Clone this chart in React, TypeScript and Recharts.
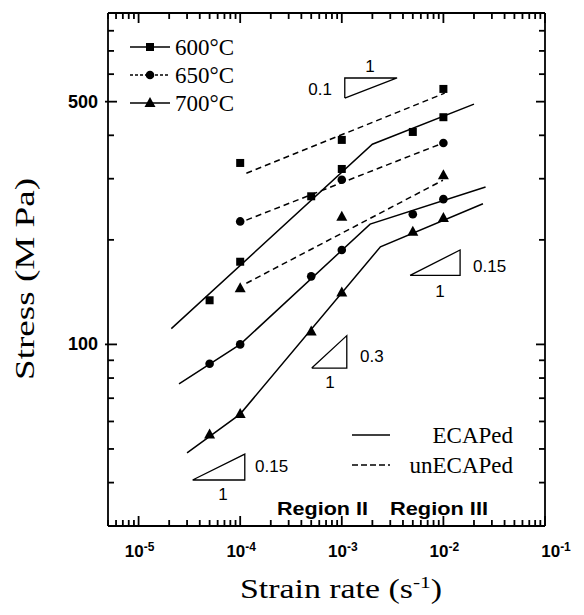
import React from 'react';
import { ComposedChart, Line, Scatter, XAxis, YAxis } from 'recharts';

// ---- measured data (strain rate s^-1, stress MPa) ----
const ecapRates = [5e-5, 1e-4, 5e-4, 1e-3, 5e-3, 1e-2];
const ecap600 = [134, 173, 267, 320, 409, 451];
const ecap650 = [88, 100, 157, 187, 237, 262];
const ecap700 = [55, 63, 109, 141, 211, 231];

const unecapRates = [1e-4, 1e-3, 1e-2];
const unecap600 = [333, 388, 544];
const unecap650 = [226, 298, 380];
const unecap700 = [145, 233, 307];

// fitted lines (vertices)
const fitEcap600X = [2.1e-5, 2.0e-3, 2.0e-2];
const fitEcap600Y = [111, 377, 492];
const fitEcap650X = [2.5e-5, 1e-4, 1.9e-3, 2.6e-2];
const fitEcap650Y = [77, 100, 222, 284];
const fitEcap700X = [3.0e-5, 1e-4, 2.4e-3, 2.45e-2];
const fitEcap700Y = [48.7, 63, 191, 254];

const fitUn600X = [1.15e-4, 1.03e-2];
const fitUn600Y = [311, 529];
const fitUn650X = [1.15e-4, 9.9e-3];
const fitUn650Y = [228, 380];
const fitUn700X = [1.15e-4, 9.9e-3];
const fitUn700Y = [150, 297];

// slope triangles (annotation)
const tri01X = [1.07e-3, 1.07e-3, 3.5e-3, 1.07e-3];
const tri01Y = [512, 585, 585, 512];
const tri015aX = [4.7e-3, 1.46e-2, 1.46e-2, 4.7e-3];
const tri015aY = [158, 158, 187, 158];
const tri03X = [5.06e-4, 1.12e-3, 1.12e-3, 5.06e-4];
const tri03Y = [85.5, 85.5, 106, 85.5];
const tri015bX = [3.4e-5, 1.11e-4, 1.11e-4, 3.4e-5];
const tri015bY = [40.7, 40.7, 48.3, 40.7];

// axis ticks
const xDomain = [5e-6, 1e-1];
const yDomain = [30, 900];
const xMajor = [1e-5, 1e-4, 1e-3, 1e-2, 1e-1];
const xTicks = [5e-6, 6e-6, 7e-6, 8e-6, 9e-6,
  1e-5, 2e-5, 3e-5, 4e-5, 5e-5, 6e-5, 7e-5, 8e-5, 9e-5,
  1e-4, 2e-4, 3e-4, 4e-4, 5e-4, 6e-4, 7e-4, 8e-4, 9e-4,
  1e-3, 2e-3, 3e-3, 4e-3, 5e-3, 6e-3, 7e-3, 8e-3, 9e-3,
  1e-2, 2e-2, 3e-2, 4e-2, 5e-2, 6e-2, 7e-2, 8e-2, 9e-2, 1e-1];
const yTicks = [30, 40, 50, 60, 70, 80, 90, 100, 200, 300, 400, 500, 600, 700, 800, 900];
const yLabelled = [100, 500];

const legendTemps = ['600°C', '650°C', '700°C'];

const pts = (xs: number[], ys: number[]) => xs.map((x, i) => ({ x, y: ys[i] }));

const SANS = 'Liberation Sans, Arial, sans-serif';
const SERIF = 'Liberation Serif, Times New Roman, serif';

// chart layout (set by margins and axis sizes below)
const W = 576, H = 600;
const M = { top: 0, right: 29, bottom: 52, left: 40 };
const AX = { left: 60, right: 10, top: 5, bottom: 30 };
const PL = M.left + AX.left;
const PR = W - M.right - AX.right;
const PT = M.top + AX.top;
const PB = H - M.bottom - AX.bottom;

const isMajorX = (v: number) => xMajor.some((m) => Math.abs(m - v) / m < 1e-6);

const BottomTick = (p: any) => {
  const { x, payload } = p;
  const v = payload.value;
  const major = isMajorX(v);
  const e = Math.round(Math.log10(v));
  return (
    <g>
      <line x1={x} x2={x} y1={PB} y2={PB - (major ? 10 : 6)} stroke="#000" strokeWidth={1.8} />
      {major && (
        <text x={x + (e === -1 ? 11 : 1)} y={PB + 31} textAnchor="middle" fontFamily={SANS} fontWeight="bold" fontSize={17} fill="#000">
          10<tspan dy={-6} fontSize={12}>{String(e)}</tspan>
        </text>
      )}
    </g>
  );
};

const TopTick = (p: any) => {
  const { x, payload } = p;
  const major = isMajorX(payload.value);
  return <line x1={x} x2={x} y1={PT} y2={PT + (major ? 10 : 6)} stroke="#000" strokeWidth={1.8} />;
};

const LeftTick = (p: any) => {
  const { y, payload } = p;
  const v = payload.value;
  const major = yLabelled.includes(v);
  return (
    <g>
      <line x1={PL - (major ? 3 : 0)} x2={PL + (major ? 9 : 6)} y1={y} y2={y} stroke="#000" strokeWidth={1.8} />
      {major && (
        <text x={PL - 10} y={y + 6} textAnchor="end" fontFamily={SANS} fontWeight="bold" fontSize={18} fill="#000">
          {v}
        </text>
      )}
    </g>
  );
};

const RightTick = (p: any) => {
  const { y, payload } = p;
  const major = yLabelled.includes(payload.value);
  return <line x1={PR} x2={PR - (major ? 9 : 6)} y1={y} y2={y} stroke="#000" strokeWidth={1.8} />;
};

const Square = (p: any) => <rect x={p.cx - 4} y={p.cy - 4} width={8} height={8} fill="#000" />;
const Circle = (p: any) => <circle cx={p.cx} cy={p.cy} r={4.3} fill="#000" />;
const Tri = (p: any) => (
  <polygon points={`${p.cx},${p.cy - 6} ${p.cx + 5.5},${p.cy + 4} ${p.cx - 5.5},${p.cy + 4}`} fill="#000" />
);

const common = { xAxisId: 'b', yAxisId: 'l', isAnimationActive: false } as const;

export default function App() {
  const lineProps = { ...common, dataKey: 'y', dot: false, activeDot: false, stroke: '#000', strokeWidth: 1.5, type: 'linear' as const };
  const dashProps = { ...lineProps, strokeDasharray: '6 4' };
  const triProps = { ...lineProps, strokeWidth: 1.3 };
  const annot = { fontFamily: SANS, fontSize: 17, fill: '#000' };
  const axisLine = { stroke: '#000', strokeWidth: 1.8 };
  return (
    <div style={{ width: W, height: H }}>
      <ComposedChart width={W} height={H} margin={M}>
        <XAxis xAxisId="b" dataKey="x" type="number" scale="log" domain={xDomain} allowDataOverflow ticks={xTicks}
          interval={0} tickLine={false} tick={<BottomTick />} height={AX.bottom} axisLine={axisLine} />
        <XAxis xAxisId="t" orientation="top" dataKey="x" type="number" scale="log" domain={xDomain} allowDataOverflow ticks={xTicks}
          interval={0} tickLine={false} tick={<TopTick />} height={AX.top} axisLine={axisLine} />
        <YAxis yAxisId="l" dataKey="y" type="number" scale="log" domain={yDomain} allowDataOverflow ticks={yTicks}
          interval={0} tickLine={false} tick={<LeftTick />} width={AX.left} axisLine={axisLine} />
        <YAxis yAxisId="r" orientation="right" dataKey="y" type="number" scale="log" domain={yDomain} allowDataOverflow ticks={yTicks}
          interval={0} tickLine={false} tick={<RightTick />} width={AX.right} axisLine={axisLine} />

        <Line {...lineProps} data={pts(fitEcap600X, fitEcap600Y)} />
        <Line {...lineProps} data={pts(fitEcap650X, fitEcap650Y)} />
        <Line {...lineProps} data={pts(fitEcap700X, fitEcap700Y)} />
        <Line {...dashProps} data={pts(fitUn600X, fitUn600Y)} />
        <Line {...dashProps} data={pts(fitUn650X, fitUn650Y)} />
        <Line {...dashProps} data={pts(fitUn700X, fitUn700Y)} />

        <Line {...triProps} data={pts(tri01X, tri01Y)} />
        <Line {...triProps} data={pts(tri015aX, tri015aY)} />
        <Line {...triProps} data={pts(tri03X, tri03Y)} />
        <Line {...triProps} data={pts(tri015bX, tri015bY)} />

        <Scatter {...common} dataKey="y" data={pts(ecapRates, ecap600)} shape={Square} />
        <Scatter {...common} dataKey="y" data={pts(ecapRates, ecap650)} shape={Circle} />
        <Scatter {...common} dataKey="y" data={pts(ecapRates, ecap700)} shape={Tri} />
        <Scatter {...common} dataKey="y" data={pts(unecapRates, unecap600)} shape={Square} />
        <Scatter {...common} dataKey="y" data={pts(unecapRates, unecap650)} shape={Circle} />
        <Scatter {...common} dataKey="y" data={pts(unecapRates, unecap700)} shape={Tri} />

        <g>
          {/* temperature legend */}
          <line x1={122} x2={162} y1={39} y2={39} stroke="#000" strokeWidth={1.5} />
          <rect x={138} y={35} width={8} height={8} fill="#000" />
          <text x={167} y={47} fontFamily={SERIF} fontSize={23} fill="#000">{legendTemps[0]}</text>
          <line x1={122} x2={162} y1={67} y2={67} stroke="#000" strokeWidth={1.5} strokeDasharray="3 2" />
          <circle cx={142} cy={67} r={4.3} fill="#000" />
          <text x={167} y={75} fontFamily={SERIF} fontSize={23} fill="#000">{legendTemps[1]}</text>
          <line x1={122} x2={162} y1={95} y2={95} stroke="#000" strokeWidth={1.5} />
          <polygon points="142,89 147.5,99 136.5,99" fill="#000" />
          <text x={167} y={103} fontFamily={SERIF} fontSize={23} fill="#000">{legendTemps[2]}</text>

          {/* processing legend */}
          <line x1={344} x2={382} y1={427} y2={427} stroke="#000" strokeWidth={1.5} />
          <text x={505} y={435} textAnchor="end" fontFamily={SERIF} fontSize={23} fill="#000">ECAPed</text>
          <line x1={344} x2={382} y1={457} y2={457} stroke="#000" strokeWidth={1.5} strokeDasharray="6 3" />
          <text x={505} y={465} textAnchor="end" fontFamily={SERIF} fontSize={23} fill="#000">unECAPed</text>

          {/* slope labels */}
          <text x={324} y={87} textAnchor="end" {...annot}>0.1</text>
          <text x={362} y={64} textAnchor="middle" {...annot}>1</text>
          <text x={465} y={264} {...annot}>0.15</text>
          <text x={432} y={289} textAnchor="middle" {...annot}>1</text>
          <text x={352} y={354} {...annot}>0.3</text>
          <text x={322} y={380} textAnchor="middle" {...annot}>1</text>
          <text x={247} y={464} {...annot}>0.15</text>
          <text x={215} y={492} textAnchor="middle" {...annot}>1</text>

          {/* regions */}
          <text x={269} y={507} fontFamily={SANS} fontWeight="bold" fontSize={19} fill="#000"
            textLength={91} lengthAdjust="spacingAndGlyphs">Region II</text>
          <text x={382} y={507} fontFamily={SANS} fontWeight="bold" fontSize={19} fill="#000"
            textLength={98} lengthAdjust="spacingAndGlyphs">Region III</text>

          {/* axis titles */}
          <text x={333} y={590} textAnchor="middle" fontFamily={SERIF} fontSize={27} fill="#000"
            textLength={202} lengthAdjust="spacingAndGlyphs">
            Strain rate (s<tspan dy={-10} fontSize={17}>-1</tspan><tspan dy={10}>)</tspan>
          </text>
          <text x={0} y={0} transform="translate(26,271) rotate(-90)" textAnchor="middle" fontFamily={SERIF} fontSize={27} fill="#000"
            textLength={202} lengthAdjust="spacingAndGlyphs">
            Stress (M Pa)
          </text>
        </g>
      </ComposedChart>
    </div>
  );
}
